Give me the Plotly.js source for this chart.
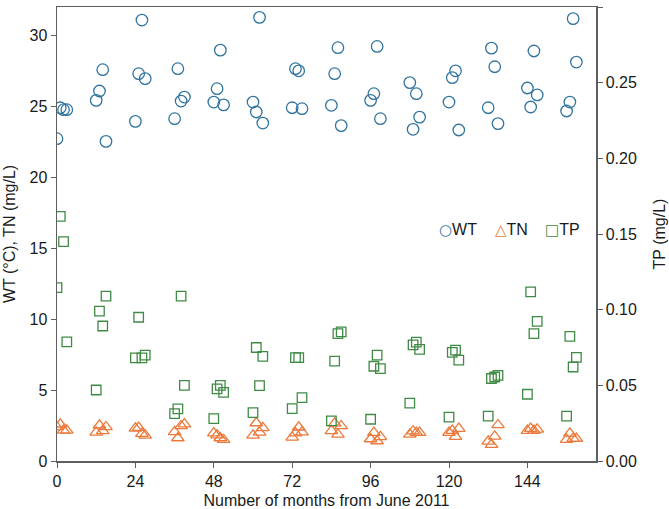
<!DOCTYPE html>
<html>
<head>
<meta charset="utf-8">
<script src="https://cdn.plot.ly/plotly-3.0.1.min.js"></script>
<style>html,body{margin:0;padding:0;background:#fff;}#chart{width:669px;height:509px;}</style>
</head>
<body>
<div id="chart"></div>
<script>
const months = [0,1,2,3, 12,13,14,15, 24,25,26,27, 36,37,38,39, 48,49,50,51, 60,61,62,63, 72,73,74,75, 84,85,86,87, 96,97,98,99, 108,109,110,111, 120,121,122,123, 132,133,134,135, 144,145,146,147, 156,157,158,159];

const wt = [22.72,24.9,24.76,24.76, 25.42,26.08,27.58,22.53, 23.94,27.3,31.08,26.95, 24.13,27.65,25.37,25.65, 25.3,26.24,28.96,25.1, 25.3,24.6,31.27,23.82, 24.9,27.65,27.5,24.83, 25.07,27.3,29.13,23.64, 25.42,25.89,29.22,24.13, 26.67,23.38,25.89,24.24, 25.3,27.02,27.5,23.33, 24.9,29.1,27.79,23.78, 26.29,24.95,28.9,25.8, 24.67,25.3,31.18,28.12];

const tn = [2.4,2.59,2.16,2.16, 2.02,2.52,2.12,2.4, 2.3,2.35,1.93,1.81, 2.05,1.62,2.47,2.6, 1.97,1.83,1.62,1.5, 1.81,2.68,2.02,2.33, 1.67,1.97,2.38,2.04, 2.12,2.65,1.87,2.47, 1.55,2.0,1.41,1.7, 1.87,2.1,2.0,2.0, 2.0,2.14,1.72,2.28, 1.38,1.16,1.74,2.54, 2.14,2.28,2.14,2.23, 1.51,1.95,1.58,1.58];

const tp = [0.1146,0.1617,0.145,0.0787, 0.0469,0.0991,0.0892,0.1089, 0.0681,0.095,0.0681,0.0699, 0.0313,0.0344,0.109,0.05, 0.028,0.0476,0.05,0.0454, 0.032,0.075,0.0498,0.0692, 0.0346,0.0683,0.0683,0.0419, 0.0265,0.066,0.0842,0.0853, 0.0276,0.0626,0.0699,0.061, 0.0383,0.0767,0.0786,0.0738, 0.029,0.0718,0.0732,0.0666, 0.0296,0.0545,0.0555,0.0566, 0.0441,0.1117,0.0842,0.0923, 0.0297,0.0824,0.0621,0.0685];

const xTicks = [0,24,48,72,96,120,144];
const yTicks = [0,5,10,15,20,25,30];
const y2Ticks = [0,0.05,0.10,0.15,0.20,0.25,0.30];
const seriesNames = ['WT','TN','TP'];

const cWT = '#31749f', cTN = '#ec7a3c', cTP = '#3f8a45';
const axisColor = '#5f5f5f';
const fontFam = '"Liberation Sans", Arial, sans-serif';
const fs = 16;

const traces = [
  {x: months, y: wt, name: seriesNames[0], type: 'scatter', mode: 'markers', yaxis: 'y', showlegend: false,
   marker: {symbol: 'circle-open', size: 11.5, color: cWT, line: {width: 1.3, color: cWT}}},
  {x: months, y: tn, name: seriesNames[1], type: 'scatter', mode: 'markers', yaxis: 'y', showlegend: false,
   marker: {symbol: 'triangle-up-open', size: 11, color: cTN, line: {width: 1.3, color: cTN}}},
  {x: months, y: tp, name: seriesNames[2], type: 'scatter', mode: 'markers', yaxis: 'y2', showlegend: false,
   marker: {symbol: 'square-open', size: 9.5, color: cTP, line: {width: 1.3, color: cTP}}}
];

function legItem(sym, color, name, x) {
  return {xref: 'paper', yref: 'paper', x: x, y: 0.509, xanchor: 'left', yanchor: 'middle', showarrow: false,
          text: '<span style="color:' + color + ';font-size:15px;font-family:DejaVu Sans">' + sym + '</span>' + name,
          font: {size: fs, family: fontFam, color: '#1a1a1a'}};
}

const layout = {
  width: 669, height: 509,
  margin: {l: 57, r: 73, t: 7, b: 48},
  paper_bgcolor: '#fff', plot_bgcolor: '#fff',
  font: {family: fontFam, size: fs, color: '#1a1a1a'},
  showlegend: false,
  annotations: [
    legItem('○', cWT, seriesNames[0], 0.705),
    legItem('△', cTN, seriesNames[1], 0.808),
    legItem('□', cTP, seriesNames[2], 0.902)
  ],
  xaxis: {range: [0, 165], tickvals: xTicks, ticks: 'outside', ticklen: 5, tickcolor: axisColor,
          showline: true, linecolor: axisColor, linewidth: 1.5, mirror: true, showgrid: false, zeroline: false,
          title: {text: 'Number of months from June 2011', font: {size: fs}, standoff: 8},
          tickfont: {size: fs}},
  yaxis: {range: [0, 32], tickvals: yTicks, ticks: 'outside', ticklen: 5, tickcolor: axisColor,
          showline: true, linecolor: axisColor, linewidth: 1.5, showgrid: false, zeroline: false,
          title: {text: 'WT (°C), TN (mg/L)', font: {size: fs}, standoff: 10},
          tickfont: {size: fs}},
  yaxis2: {range: [0, 0.30], overlaying: 'y', side: 'right', tickvals: y2Ticks,
           tickformat: '.2f', ticks: 'outside', ticklen: 5, tickcolor: axisColor,
           showline: true, linecolor: axisColor, linewidth: 1.5, showgrid: false, zeroline: false,
           title: {text: 'TP (mg/L)', font: {size: fs}, standoff: 18},
           tickfont: {size: fs}}
};

Plotly.newPlot('chart', traces, layout, {displayModeBar: false, staticPlot: true});
</script>
</body>
</html>
